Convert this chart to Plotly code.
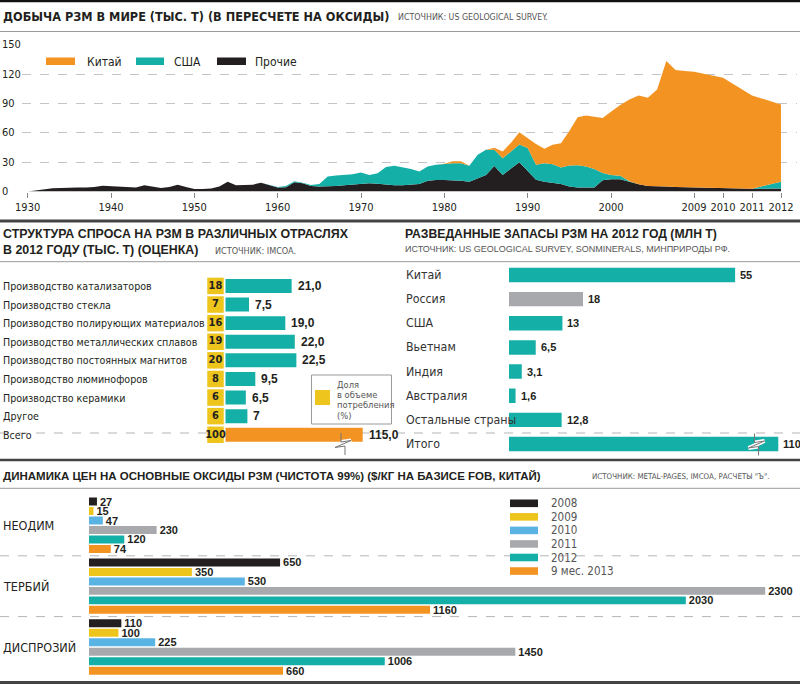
import numpy as np
import plotly.graph_objects as go

W, H = 800, 684
def X(px): return px / W
def Y(py): return 1 - py / H

# ---------------- DATA ----------------
# Panel 1: world REO production, thousand t
years = list(range(1930, 2013))
others = [0, 1.2, 2.4, 3.2, 3.6, 4, 4, 4, 4.5, 6,          # 1930-1939
          5.5, 4.5, 4, 4.2, 6.5, 5, 3.5, 4.5, 7, 4.5,       # 1940-1949
          2.5, 2.5, 3, 5, 10, 6.5, 6.5, 7, 9, 6.5,          # 1950-1959
          4, 4.3, 9.5, 8.5, 5.7, 5, 5, 5.7, 6.4, 7,         # 1960-1969
          7.7, 8.4, 8, 7, 6.4, 6.4, 6.7, 7.7, 11, 11.8,     # 1970-1979
          11.8, 11.5, 11, 10, 13.6, 17, 26, 17, 23.5, 30,   # 1980-1989
          21, 12, 10, 9, 7.7, 5, 4, 4, 4, 11.5,             # 1990-1999
          12.5, 12.5, 10, 7.4, 5.7, 5, 5, 4.6, 4.3, 4,      # 2000-2009
          3.3, 2.9, 3]                                      # 2010-2012
usa = [0] * 30 + [                                          # 1930-1959
       0.5, 1.4, 1, 0.5, 1, 2.7, 10.3, 10.6, 10.3, 10.7,    # 1960-1969
       11.7, 8.6, 10.7, 18, 19.9, 18.6, 16.3, 12.7, 14.6, 15.5,  # 1970-1979
       16.5, 17.5, 18, 16.3, 24, 25.7, 16.7, 17, 17.5, 18,  # 1980-1989
       23.5, 15.3, 19, 19, 16.8, 21.5, 23, 21.5, 19, 7.5,   # 1990-1999
       4.5, 3.5, 0.5, 0, 0, 0, 0, 0, 0, 0,                  # 2000-2009
       0, 0, 7]                                             # 2010-2012
china = [0] * 51 + [                                        # 1930-1980
         2, 2, 0, 0, 0, 2, 7, 9, 12.6,                      # 1981-1989
         10.3, 21.3, 14.8, 19.9, 25, 35.5, 49, 52.3, 53.4, 56.3,   # 1990-1999
         64.7, 72.5, 83.7, 90.9, 90.3, 99.5, 128.7, 119.9, 119.1, 118.7,  # 2000-2009
         113.2, 95.4, 79]                                   # 2010-2012
prod_series = ["Прочие", "США", "Китай"]
year_ticks = [1930, 1940, 1950, 1960, 1970, 1980, 1990, 2000, 2009, 2010, 2011, 2012]
y_ticks = [0, 30, 60, 90, 120, 150]

# Panel 2: demand structure 2012
demand_cats = ["Производство катализаторов", "Производство стекла",
               "Производство полирующих материалов", "Производство металлических сплавов",
               "Производство постоянных магнитов", "Производство люминофоров",
               "Производство керамики", "Другое", "Всего"]
demand_vals = [21.0, 7.5, 19.0, 22.0, 22.5, 9.5, 6.5, 7, 115.0]
demand_labels = ["21,0", "7,5", "19,0", "22,0", "22,5", "9,5", "6,5", "7", "115,0"]
demand_share = [18, 7, 16, 19, 20, 8, 6, 6, 100]

# Panel 3: reserves 2012, mln t
res_cats = ["Китай", "Россия", "США", "Вьетнам", "Индия", "Австралия", "Остальные страны", "Итого"]
res_vals = [55, 18, 13, 6.5, 3.1, 1.6, 12.8, 110]
res_labels = ["55", "18", "13", "6,5", "3,1", "1,6", "12,8", "110"]

# Panel 4: prices $/kg
elements = ["НЕОДИМ", "ТЕРБИЙ", "ДИСПРОЗИЙ"]
price_years = ["2008", "2009", "2010", "2011", "2012", "9 мес. 2013"]
prices = [[27, 650, 110],
          [15, 350, 100],
          [47, 530, 225],
          [230, 2300, 1450],
          [120, 2030, 1006],
          [74, 1160, 660]]

# ---------------- STYLE ----------------
ORANGE = "#F39322"
TEAL = "#14AFA7"
BLACK = "#231F20"
YELLOW = "#EDC51C"
BLUE = "#5AB4E3"
GREY = "#A7A9AC"
TXT = "#231F20"
SRC = "#555555"
FN = "DejaVu Sans Condensed, Roboto, sans-serif"
FB = "Liberation Sans, Arial, sans-serif"
price_colors = [BLACK, YELLOW, BLUE, GREY, TEAL, ORANGE]

def pos(y):
    # the drawing stretches the final years of the time axis
    return np.interp(y, [1930, 2000, 2009, 2012], [1930, 2000, 2009.96, 2020.4])

fig = go.Figure()
ann = []
shapes = []

# ---------- Panel 1 ----------
for name, vals, col in zip(prod_series, [others, usa, china], [BLACK, TEAL, ORANGE]):
    fig.add_trace(go.Scatter(x=pos(np.array(years)), y=vals, name=name, stackgroup="p",
                             mode="lines", line=dict(width=0, color=col), fillcolor=col,
                             hoverinfo="skip", xaxis="x", yaxis="y"))
for v in y_ticks:
    ann.append(dict(x=X(0), y=v, xref="paper", yref="y", text=str(v), showarrow=False,
                    xanchor="left", yanchor="middle", font=dict(family=FN, size=11, color=TXT)))

# legend panel 1
for (x0, x1, tx), col, name in zip([(46, 75, 85), (136, 164, 172), (217, 246, 253)],
                                   [ORANGE, TEAL, BLACK], ["Китай", "США", "Прочие"]):
    shapes.append(dict(type="rect", xref="paper", yref="paper", x0=X(x0), x1=X(x1),
                       y0=Y(65), y1=Y(57.5), fillcolor=col, line=dict(width=0)))
    ann.append(dict(x=X(tx), y=Y(61.5), xref="paper", yref="paper", text=name, showarrow=False,
                    xanchor="left", yanchor="middle", font=dict(family=FN, size=12, color=TXT)))

# ---------- Panel 2 ----------
CAP2 = 43.5
fig.add_trace(go.Bar(x=demand_vals, y=demand_cats, orientation="h", width=0.75,
                     marker=dict(color=[TEAL] * (len(demand_cats) - 1) + [ORANGE], line=dict(width=0)),
                     hoverinfo="skip", xaxis="x2", yaxis="y2"))
fig.add_trace(go.Scatter(x=[0.5] * len(demand_cats), y=demand_cats, mode="markers+text",
                         marker=dict(symbol="square", size=16.5, color=YELLOW, line=dict(width=0)),
                         text=[f"<b>{s}</b>" for s in demand_share], textposition="middle center",
                         textfont=dict(family=FN, size=11, color=TXT), hoverinfo="skip",
                         cliponaxis=False, xaxis="x3", yaxis="y2"))
for c, v, l in zip(demand_cats, demand_vals, demand_labels):
    ann.append(dict(x=X(1), y=c, xref="paper", yref="y2", text=c, showarrow=False,
                    xanchor="left", yanchor="middle", font=dict(family=FN, size=10.6, color=TXT)))
    ann.append(dict(x=min(v, CAP2), y=c, xref="x2", yref="y2", text=f"<b>{l}</b>", showarrow=False,
                    xanchor="left", yanchor="middle", xshift=4,
                    font=dict(family=FB, size=12, color=TXT)))

# share legend box
shapes.append(dict(type="rect", xref="paper", yref="paper", x0=X(311.5), x1=X(391.5),
                   y0=Y(424), y1=Y(375), fillcolor="white", line=dict(color="#9a9a9a", width=1)))
shapes.append(dict(type="rect", xref="paper", yref="paper", x0=X(315), x1=X(330),
                   y0=Y(405), y1=Y(390), fillcolor=YELLOW, line=dict(width=0)))
for t, yy in zip(["Доля", "в объеме", "потребления", "(%)"], [384, 394, 404.5, 415]):
    ann.append(dict(x=X(335), y=Y(yy), xref="paper", yref="paper", text=t, showarrow=False,
                    xanchor="left", yanchor="middle", font=dict(family=FN, size=9.3, color=SRC)))

# ---------- Panel 3 ----------
CAP3 = 65.5
fig.add_trace(go.Bar(x=res_vals, y=res_cats, orientation="h", width=0.6,
                     marker=dict(color=[GREY if c == "Россия" else TEAL for c in res_cats], line=dict(width=0)),
                     hoverinfo="skip", xaxis="x4", yaxis="y4"))
for c, v, l in zip(res_cats, res_vals, res_labels):
    ann.append(dict(x=X(404), y=c, xref="paper", yref="y4", text=c, showarrow=False,
                    xanchor="left", yanchor="middle", font=dict(family=FN, size=12.3, color="#333333")))
    ann.append(dict(x=min(v, CAP3), y=c, xref="x4", yref="y4", text=f"<b>{l}</b>", showarrow=False,
                    xanchor="left", yanchor="middle", xshift=3,
                    font=dict(family=FB, size=11, color=TXT)))

# break symbols on truncated bars
def brk(xc, yc):
    p = [(xc - 2, yc - 11), (xc - 2, yc - 2), (xc + 8, yc - 3.5), (xc - 8, yc + 3.5),
         (xc + 2, yc + 2), (xc + 2, yc + 11)]
    z = p[1:5]
    def path(pts):
        return "M " + " L ".join(f"{X(a):.5f},{Y(b):.5f}" for a, b in pts)
    shapes.append(dict(type="path", xref="paper", yref="paper", path=path(z),
                       line=dict(color="white", width=4)))
    shapes.append(dict(type="path", xref="paper", yref="paper", path=path(p),
                       line=dict(color="#777777", width=1)))
brk(343, 444)
brk(756.5, 444.5)

# ---------- Panel 4 ----------
for yl, vals, col in zip(price_years, prices, price_colors):
    fig.add_trace(go.Bar(x=vals, y=elements, name=yl, orientation="h",
                         marker=dict(color=col, line=dict(width=0)),
                         text=[f"<b>{v}</b>" for v in vals], textposition="outside",
                         constraintext="none", cliponaxis=False,
                         textfont=dict(family=FB, size=11, color=TXT),
                         hoverinfo="skip", xaxis="x5", yaxis="y5"))
for e in elements:
    ann.append(dict(x=X(1), y=e, xref="paper", yref="y5", text=e, showarrow=False,
                    xanchor="left", yanchor="middle", font=dict(family=FN, size=12.5, color=TXT)))
for i, (yl, col) in enumerate(zip(price_years, price_colors)):
    yc = 503.3 + i * 13.55
    shapes.append(dict(type="rect", xref="paper", yref="paper", x0=X(510), x1=X(538),
                       y0=Y(yc + 3.8), y1=Y(yc - 3.8), fillcolor=col, line=dict(width=0)))
    ann.append(dict(x=X(549), y=Y(yc), xref="paper", yref="paper", text=yl, showarrow=False,
                    xanchor="left", yanchor="middle", font=dict(family=FN, size=11.5, color=SRC)))

# ---------- Titles / rules ----------
def hline(y, color, width, dash=None, x0=0, x1=800):
    shapes.append(dict(type="line", xref="paper", yref="paper", x0=X(x0), x1=X(x1), y0=Y(y), y1=Y(y),
                       layer="below", line=dict(color=color, width=width, dash=dash)))
hline(1, "#111111", 2.5)
hline(31.5, "#9a9a9a", 1)
hline(221, "#444444", 3)
hline(261.7, "#9a9a9a", 1)
hline(433, "#b5b5b5", 1, "dash")
hline(460, "#444444", 2.5)
hline(488.3, "#9a9a9a", 1)
hline(555.8, "#b5b5b5", 1, "dash")
hline(616.6, "#b5b5b5", 1, "dash")
hline(682.5, "#444444", 3)

def txt(x, y, t, size, family, color=TXT, bold=False):
    ann.append(dict(x=X(x), y=Y(y), xref="paper", yref="paper", text=(f"<b>{t}</b>" if bold else t),
                    showarrow=False, xanchor="left", yanchor="middle",
                    font=dict(family=family, size=size, color=color)))
txt(1, 16, "ДОБЫЧА РЗМ В МИРЕ (ТЫС. Т) (В ПЕРЕСЧЕТЕ НА ОКСИДЫ)", 12.6, FN, bold=True)
txt(396, 17, "ИСТОЧНИК: US GEOLOGICAL SURVEY.", 8.8, FN, SRC)
txt(1, 234, "СТРУКТУРА СПРОСА НА РЗМ В РАЗЛИЧНЫХ ОТРАСЛЯХ", 12.4, FB, bold=True)
txt(1, 250, "В 2012 ГОДУ (ТЫС. Т) (ОЦЕНКА)", 12.4, FB, bold=True)
txt(213, 251, "ИСТОЧНИК: IMCOA.", 9, FN, SRC)
txt(403, 234, "РАЗВЕДАННЫЕ ЗАПАСЫ РЗМ НА 2012 ГОД (МЛН Т)", 12.2, FB, bold=True)
txt(403, 249.5, "ИСТОЧНИК: US GEOLOGICAL SURVEY, SONMINERALS, МИНПРИРОДЫ РФ.", 9, FB, SRC)
txt(1, 476, "ДИНАМИКА ЦЕН НА ОСНОВНЫЕ ОКСИДЫ РЗМ (ЧИСТОТА 99%) ($/КГ НА БАЗИСЕ FOB, КИТАЙ)", 11.5, FB, bold=True)
txt(590, 477, "ИСТОЧНИК: METAL-PAGES, IMCOA, РАСЧЕТЫ \"Ъ\".", 7.9, FN, SRC)

hidden = dict(visible=False, showgrid=False, zeroline=False, fixedrange=True, automargin=False)
fig.update_layout(
    width=W, height=H, margin=dict(l=0, r=0, t=0, b=0, autoexpand=False),
    paper_bgcolor="white", plot_bgcolor="white", showlegend=False,
    barmode="group", bargap=0.066, bargroupgap=0.16,
    xaxis=dict(domain=[X(22), X(797)], range=[1929.32, 2022.32], anchor="y", automargin=False,
               tickvals=list(pos(np.array(year_ticks))), ticktext=[str(t) for t in year_ticks],
               ticks="outside", ticklen=5, tickcolor="#888888", showgrid=False, zeroline=False,
               showline=False, tickangle=0, tickfont=dict(family=FN, size=11, color=TXT)),
    yaxis=dict(domain=[Y(191.5), Y(44.0)], range=[0, 151], anchor="x", automargin=False,
               tickvals=y_ticks[1:], showticklabels=False, showgrid=True, gridcolor="#c4c4c4",
               griddash="dash", gridwidth=1, zeroline=False, showline=False),
    xaxis2=dict(domain=[X(225.3), X(362.7)], range=[0, CAP2], anchor="y2", **hidden),
    yaxis2=dict(domain=[Y(454.5), Y(266.2)], anchor="x2", autorange="reversed",
                categoryorder="array", categoryarray=demand_cats, type="category", **hidden),
    xaxis3=dict(domain=[X(207), X(224)], range=[0, 1], anchor="y2", **hidden),
    xaxis4=dict(domain=[X(509), X(778.3)], range=[0, CAP3], anchor="y4", **hidden),
    yaxis4=dict(domain=[Y(456.1), Y(262.9)], anchor="x4", autorange="reversed",
                categoryorder="array", categoryarray=res_cats, type="category", **hidden),
    xaxis5=dict(domain=[X(89), X(800)], range=[0, 711 / 0.294], anchor="y5", **hidden),
    yaxis5=dict(domain=[Y(677.5), Y(494.8)], anchor="x5", autorange="reversed",
                categoryorder="array", categoryarray=elements, type="category", **hidden),
    annotations=ann, shapes=shapes,
)
fig.write_html("out.html")
